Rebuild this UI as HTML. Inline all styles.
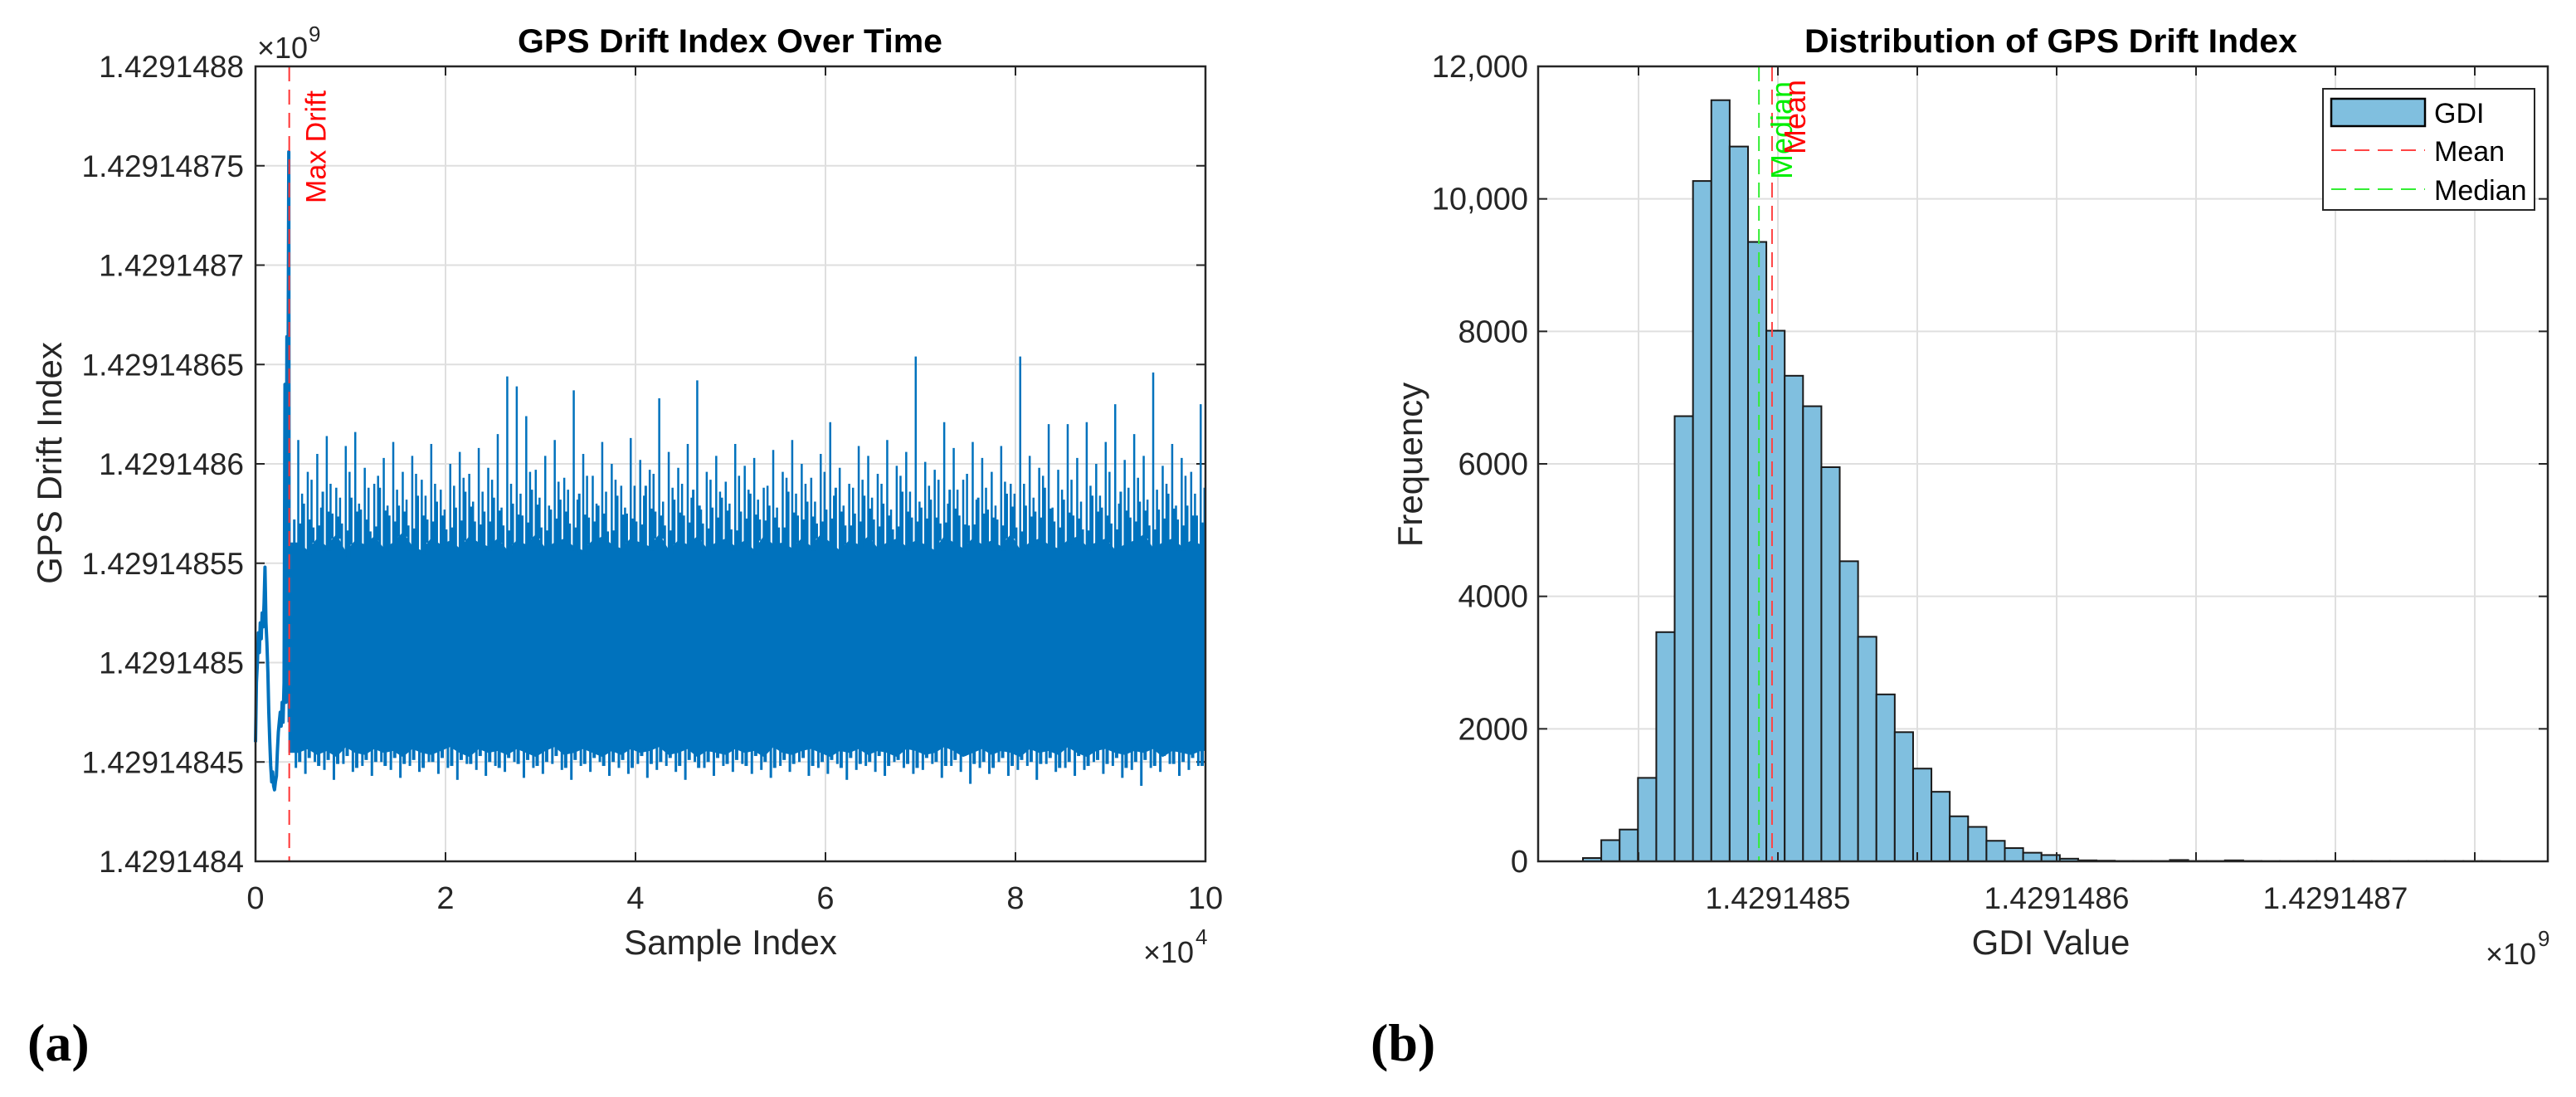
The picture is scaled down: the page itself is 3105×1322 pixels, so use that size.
<!DOCTYPE html>
<html><head><meta charset="utf-8"><style>
html,body{margin:0;padding:0;background:#fff;}
svg{display:block;font-family:"Liberation Sans",Arial,sans-serif;}
</style></head><body>
<svg id="fig" width="3105" height="1322" viewBox="0 0 3105 1322" xmlns="http://www.w3.org/2000/svg">
<g id="left"></g>
<g id="right"></g>
<text x="33" y="1278" font-family="Liberation Serif,serif" font-weight="bold" font-size="64">(a)</text>
<text x="1652" y="1278" font-family="Liberation Serif,serif" font-weight="bold" font-size="64">(b)</text>
</svg>
<script>
// ---------- Left chart data (values offset from 1429148000) ----------
const earlyX = [0,100,200,300,400,500,600,700,800,900,1000,1100,1200,1300,1400,1500,1600,1700,1800,1900,2000,2100,2200,2300,2400,2500,2600,2700,2800,2900,3000,3100,3200,3300,3400,3500,3550];
const earlyY = [460,490,500,515,505,520,512,525,518,530,548,520,510,495,475,460,448,440,445,438,436,440,443,455,465,470,475,468,480,470,490,640,480,664,600,757,470];
const spikeHi = [612,596,605,614,588,609,616,598,590,603,611,596,604,592,610,587,600,606,595,608,598,615,644,639,624,597,604,612,593,637,605,594,611,600,589,613,602,597,633,606,598,610,642,596,604,591,610,599,603,588,607,596,612,600,593,605,621,598,590,609,604,595,612,599,606,654,601,597,621,608,592,611,603,596,609,590,654,604,598,620,597,620,603,621,600,611,630,602,615,604,646,599,610,603,596,630];
const spikeHi2 = [585,592,578,590,583,596,580,588,594,579,587,582,595,584,590,577,589,593,581,586,592,578,590,585,596,583,579,591,587,582,594,580,586,592,578,589,584,595,581,588,590,583,577,592,586,580,594,587,582,589,578,593,585,590,581,596,584,579,588,592,583,590,577,594,586,581,589,592,580,587,595,582,588,579,591,585,590,583,594,578,587,592,581,589,584,596,580,588,593,582,587,590,579,594,585,588];
const spikeHi3 = [572,580,568,586,575,570,583,577,566,588,574,579,569,584,572,581,567,578,586,571,576,583,569,580,574,587,568,577,582,570,585,573,579,566,584,575,571,589,576,569,582,574,587,570,578,583,567,576,585,572,579,568,586,574,581,570,577,588,569,575,584,572,580,567,586,573,578,582,570,587,574,569,583,577,572,585,568,579,576,588,571,582,574,567,584,578,570,586,573,581,569,577,585,572,579,574];
const bandHi = [560,556,562,558,564,555,561,559,563,557,560,565,558,556,562,559,561,557,563,560,558,562,556,561,559,564,557,560,562,558,556,561,563,559,557,562,560,558,564,556,561,559,563,557,560,562,558,561,556,563,559,560,557,562,558,564,560,556,561,559,563,557,560,562,558,561,559,556,563,560,557,562,559,561,558,564,556,560,562,559,557,561,563,558,560,562,556,559,561,564,557,560,562,558,561,559];
const bandLo = [455,457,454,456,453,458,455,454,457,455,456,453,457,455,454,456,458,455,453,457,455,456,454,457,455,453,456,458,454,455,457,455,453,456,454,457,455,456,458,454,455,457,453,456,455,454,457,455,456,453,458,455,454,456,457,455,453,456,455,457,454,456,455,453,457,456,454,455,458,456,453,455,457,454,456,455,453,457,455,456,454,458,455,453,456,457,455,454,456,455,457,453,456,455,454,456];
const spikeLo = [447,444,450,446,441,449,445,448,443,450,446,442,448,445,450,444,447,441,449,446,443,448,445,450,442,447,444,449,446,441,448,445,450,443,447,444,449,442,446,448,445,441,450,447,443,448,445,449,444,446,442,448,445,450,443,447,444,449,441,446,448,445,443,450,447,444,446,449,442,448,445,439,447,444,450,443,446,448,441,449,445,447,443,446,450,444,448,442,446,438,447,445,449,443,446,448];
const spikeLo2 = [450,452,448,451,449,453,447,451,450,448,452,449,451,447,450,452,448,451,449,453,450,447,452,449,451,448,450,453,447,451,449,452,448,450,451,447,453,449,450,452,448,451,447,450,452,449,451,448,453,450,447,451,449,452,448,450,451,447,452,449,450,453,448,451,449,447,452,450,448,451,453,449,450,447,452,448,451,450,449,452,447,450,453,448,451,449,452,447,450,451,448,453,449,450,452,448];
const binStartX = 4000, binStepX = 1000;
const leftYTicks = [400,450,500,550,600,650,700,750,800];
const leftYTickLabels = ["1.4291484","1.42914845","1.4291485","1.42914855","1.4291486","1.42914865","1.4291487","1.42914875","1.4291488"];
const leftXTicks = [0,20000,40000,60000,80000,100000];
const leftXTickLabels = ["0","2","4","6","8","10"];
const maxDriftX = 3550;

// ---------- Right chart data ----------
const histCounts = [50,320,480,1260,3460,6720,10270,11490,10790,9350,8010,7330,6870,5950,4530,3390,2520,1950,1400,1050,680,520,310,200,130,95,40,15,10,5,5,5,20,5,5,15,5,3,3,3,3,3,3,3,3,3,3,3,3,3];
const histStart = 430.06;
const histBinWidth = 6.58;
const meanVal = 497.9;
const medianVal = 493.2;
const rightXTicks = [450,500,550,600,650,700,750];
const rightXTickLabels = ["","1.4291485","","1.4291486","","1.4291487",""];
const rightYTicks = [0,2000,4000,6000,8000,10000,12000];
const rightYTickLabels = ["0","2000","4000","6000","8000","10,000","12,000"];

const NS = "http://www.w3.org/2000/svg";
function mk(parent, tag, attrs, text){
  const e = document.createElementNS(NS, tag);
  for (const k in attrs) e.setAttribute(k, attrs[k]);
  if (text !== undefined) e.textContent = text;
  parent.appendChild(e);
  return e;
}
const GRID = "#dfdfdf", AX = "#262626", TXT = "#262626", BLUE = "#0072BD";

// ---------- LEFT ----------
(function(){
  const g = document.getElementById('left');
  const L=308,R=1453,T=80,B=1038;
  const xs = v => L + (v-0)/(100000)*(R-L);
  const ys = v => B - (v-400)/400*(B-T);
  leftXTicks.forEach((t,i)=>{
    const x = xs(t);
    const gl = mk(g,'line',{x1:x,x2:x,y1:T,y2:B,stroke:GRID,'stroke-width':2});
    
    
    const tl = mk(g,'text',{x:x,y:1095,'text-anchor':'middle','font-size':38,fill:TXT},leftXTickLabels[i]);
    
    
    mk(g,'line',{x1:x,x2:x,y1:B,y2:B-11,stroke:AX,'stroke-width':2});
    mk(g,'line',{x1:x,x2:x,y1:T,y2:T+11,stroke:AX,'stroke-width':2});
  });
  leftYTicks.forEach((t,i)=>{
    const y = ys(t);
    const gl = mk(g,'line',{x1:L,x2:R,y1:y,y2:y,stroke:GRID,'stroke-width':2});
    
    
    const tl = mk(g,'text',{x:294,y:y+13,'text-anchor':'end','font-size':37,fill:TXT},leftYTickLabels[i]);
    
    
    mk(g,'line',{x1:L,x2:L+11,y1:y,y2:y,stroke:AX,'stroke-width':2});
    mk(g,'line',{x1:R,x2:R-11,y1:y,y2:y,stroke:AX,'stroke-width':2});
  });
  const pts = earlyX.map((x,i)=>xs(x).toFixed(1)+","+ys(earlyY[i]).toFixed(1)).join(" ");
  const early = mk(g,'polyline',{points:pts,fill:'none',stroke:BLUE,'stroke-width':4,'stroke-linejoin':'round'});
  
  
  const n = bandHi.length;
  let top=[],bot=[];
  for(let i=0;i<n;i++){
    const cx = binStartX + binStepX*(i+0.5);
    top.push(xs(cx).toFixed(1)+","+ys(bandHi[i]).toFixed(1));
    bot.push(xs(cx).toFixed(1)+","+ys(bandLo[i]).toFixed(1));
  }
  const first = xs(earlyX[earlyX.length-1]).toFixed(1);
  top.unshift(first+","+ys(bandHi[0]).toFixed(1)); bot.unshift(first+","+ys(bandLo[0]).toFixed(1));
  top.push(xs(100000).toFixed(1)+","+ys(bandHi[n-1]).toFixed(1)); bot.push(xs(100000).toFixed(1)+","+ys(bandLo[n-1]).toFixed(1));
  const band = mk(g,'polygon',{points:top.concat(bot.reverse()).join(" "),fill:BLUE,stroke:BLUE,'stroke-width':2});
  
  
  for(let i=0;i<n;i++){
    const c = binStartX + binStepX*(i+0.5);
    const x1 = xs(c), x2 = xs(c+400), x3 = xs(c-250), x4 = xs(c-420), x5 = xs(c+200), x6 = xs(c+150);
    const s1 = mk(g,'line',{x1:x1,x2:x1,y1:ys(bandHi[i])+4,y2:ys(spikeHi[i]),stroke:BLUE,'stroke-width':2.5});
    
    
    const s2 = mk(g,'line',{x1:x2,x2:x2,y1:ys(bandHi[i])+4,y2:ys(spikeHi2[i]),stroke:BLUE,'stroke-width':2.5});
    
    
    const s4 = mk(g,'line',{x1:x4,x2:x4,y1:ys(bandHi[i])+4,y2:ys(spikeHi3[i]),stroke:BLUE,'stroke-width':3});
    
    
    const s5 = mk(g,'line',{x1:x5,x2:x5,y1:ys(bandHi[i])+4,y2:ys((spikeHi3[i]+bandHi[i])/2+4),stroke:BLUE,'stroke-width':4});
    
    
    const s3 = mk(g,'line',{x1:x3,x2:x3,y1:ys(bandLo[i])-4,y2:ys(spikeLo[i]),stroke:BLUE,'stroke-width':3});
    
    
    const s6 = mk(g,'line',{x1:x6,x2:x6,y1:ys(bandLo[i])-4,y2:ys(spikeLo2[i]),stroke:BLUE,'stroke-width':4});
    
    
  }
  const mx = xs(maxDriftX);
  const md = mk(g,'line',{x1:mx,x2:mx,y1:T,y2:B,stroke:'#ff3333','stroke-width':2,'stroke-dasharray':'18,10'});
  
  
  const mdt = mk(g,'text',{x:0,y:0,transform:`translate(${mx+44},245) rotate(-90)`,'font-size':34,fill:'#ff0000'},'Max Drift');
  
  
  const box = mk(g,'rect',{x:L,y:T,width:R-L,height:B-T,fill:'none',stroke:AX,'stroke-width':2.5});
  
  
  const ti = mk(g,'text',{x:880,y:63,'text-anchor':'middle','font-size':40,'font-weight':'bold',fill:'#000',textLength:512,lengthAdjust:'spacingAndGlyphs'},'GPS Drift Index Over Time');
  
  
  const xl = mk(g,'text',{x:(L+R)/2,y:1150,'text-anchor':'middle','font-size':42,fill:TXT},'Sample Index');
  
  
  const yl = mk(g,'text',{x:0,y:0,transform:'translate(74,558) rotate(-90)','text-anchor':'middle','font-size':42,fill:TXT},'GPS Drift Index');
  
  
  const ex = mk(g,'text',{x:R-75,y:1160,'font-size':36,fill:TXT},'×10');
  
  
  mk(g,'text',{x:R-12,y:1138,'font-size':26,fill:TXT},'4');
  const ey = mk(g,'text',{x:L+2,y:70,'font-size':36,fill:TXT},'×10');
  
  
  mk(g,'text',{x:L+64,y:50,'font-size':26,fill:TXT},'9');
})();

// ---------- RIGHT ----------
(function(){
  const g = document.getElementById('right');
  const L=1854,R=3071,T=80,B=1038;
  const xs = v => 2143 + (v-500)*3.36;
  const ys = v => B - v/12000*(B-T);
  rightXTicks.forEach((t,i)=>{
    const x = xs(t);
    const gl = mk(g,'line',{x1:x,x2:x,y1:T,y2:B,stroke:GRID,'stroke-width':2});
    
    
    mk(g,'line',{x1:x,x2:x,y1:T,y2:T+11,stroke:AX,'stroke-width':2});
    if (rightXTickLabels[i]) {
      const tl = mk(g,'text',{x:x,y:1095,'text-anchor':'middle','font-size':37,fill:TXT},rightXTickLabels[i]);
      
      
    }
  });
  rightYTicks.forEach((t,i)=>{
    const y = ys(t);
    const gl = mk(g,'line',{x1:L,x2:R,y1:y,y2:y,stroke:GRID,'stroke-width':2});
    
    
    mk(g,'line',{x1:L,x2:L+11,y1:y,y2:y,stroke:AX,'stroke-width':2});
    mk(g,'line',{x1:R,x2:R-11,y1:y,y2:y,stroke:AX,'stroke-width':2});
    const tl = mk(g,'text',{x:1842,y:y+13,'text-anchor':'end','font-size':38,fill:TXT},rightYTickLabels[i]);
    
    
  });
  histCounts.forEach((c,i)=>{
    const x0 = xs(histStart + i*histBinWidth), x1 = xs(histStart + (i+1)*histBinWidth);
    const y = ys(c);
    const b = mk(g,'rect',{x:x0,y:y,width:x1-x0,height:B-y,fill:'#80bfdf',stroke:'#1a1a1a','stroke-width':2});
    
    
  });
  rightXTicks.forEach(t=>{const x=xs(t); mk(g,'line',{x1:x,x2:x,y1:B,y2:B-11,stroke:AX,'stroke-width':2});});
  const xm = xs(meanVal), xd = xs(medianVal);
  const ml = mk(g,'line',{x1:xm,x2:xm,y1:T,y2:B,stroke:'#ff4444','stroke-width':2,'stroke-dasharray':'18,10'});
  
  
  const dl = mk(g,'line',{x1:xd,x2:xd,y1:T,y2:B,stroke:'#33ee33','stroke-width':2,'stroke-dasharray':'18,10'});
  
  
  const dtx = mk(g,'text',{x:0,y:0,transform:`translate(${xd+40},216) rotate(-90)`,'font-size':36,fill:'#00ee00'},'Median');
  
  
  const mtx = mk(g,'text',{x:0,y:0,transform:`translate(${xm+40},186) rotate(-90)`,'font-size':36,fill:'#ff0000'},'Mean');
  
  
  const box = mk(g,'rect',{x:L,y:T,width:R-L,height:B-T,fill:'none',stroke:AX,'stroke-width':2.5});
  
  
  const lg = mk(g,'g',{});
  
  
  mk(lg,'rect',{x:2800,y:107,width:255,height:146,fill:'#fff',stroke:AX,'stroke-width':2});
  const e1 = mk(lg,'rect',{x:2810,y:119,width:113,height:33,fill:'#80bfdf',stroke:'#000','stroke-width':2.5});
  
  
  mk(lg,'text',{x:2934,y:148,'font-size':34,fill:'#000'},'GDI');
  const e2 = mk(lg,'line',{x1:2810,x2:2923,y1:181,y2:181,stroke:'#ff4444','stroke-width':2,'stroke-dasharray':'18,10'});
  
  
  mk(lg,'text',{x:2934,y:194,'font-size':34,fill:'#000'},'Mean');
  const e3 = mk(lg,'line',{x1:2810,x2:2923,y1:228,y2:228,stroke:'#33ee33','stroke-width':2,'stroke-dasharray':'18,10'});
  
  
  mk(lg,'text',{x:2934,y:241,'font-size':34,fill:'#000'},'Median');
  const ti = mk(g,'text',{x:2472,y:63,'text-anchor':'middle','font-size':40,'font-weight':'bold',fill:'#000',textLength:594,lengthAdjust:'spacingAndGlyphs'},'Distribution of GPS Drift Index');
  
  
  const xl = mk(g,'text',{x:2472,y:1150,'text-anchor':'middle','font-size':42,fill:TXT},'GDI Value');
  
  
  const yl = mk(g,'text',{x:0,y:0,transform:'translate(1714,560) rotate(-90)','text-anchor':'middle','font-size':42,fill:TXT},'Frequency');
  
  
  const ex = mk(g,'text',{x:R-75,y:1162,'font-size':36,fill:TXT},'×10');
  
  
  mk(g,'text',{x:R-12,y:1140,'font-size':26,fill:TXT},'9');
})();
</script>
</body></html>
